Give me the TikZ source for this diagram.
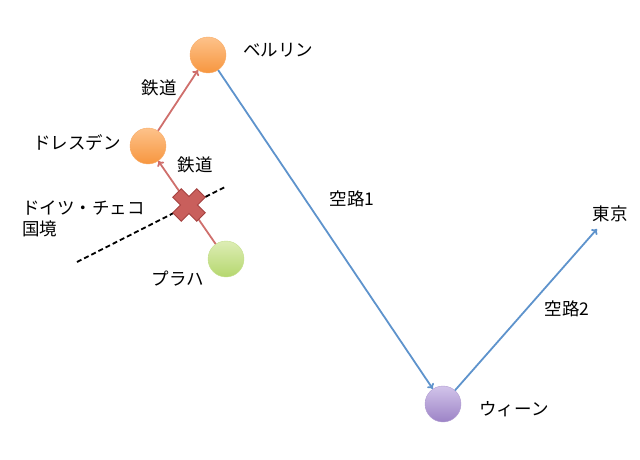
\documentclass[tikz,border=0pt]{standalone}
\usepackage{fontspec}
\setmainfont{Noto Sans CJK JP}
\usetikzlibrary{
  arrows.meta,
  shapes
}
\definecolor{railred}{HTML}{CF6F6C}
\definecolor{airblue}{HTML}{5E93CC}
\definecolor{crossred}{HTML}{C95F5C}
\definecolor{crossedge}{HTML}{A4403E}
\definecolor{orangetop}{HTML}{FDC28A}
\definecolor{orangebot}{HTML}{F7963F}
\definecolor{greentop}{HTML}{DDEDB5}
\definecolor{greenbot}{HTML}{B5D76E}
\definecolor{purpletop}{HTML}{D2C4EA}
\definecolor{purplebot}{HTML}{9C83C6}
\tikzset{
  city/.style={circle, minimum size=36pt, inner sep=0pt, line width=0.4pt},
  orangecity/.style={city, top color=orangetop, bottom color=orangebot, draw=orangebot!80!white},
  greencity/.style={city, top color=greentop, bottom color=greenbot, draw=greenbot!80!white},
  purplecity/.style={city, top color=purpletop, bottom color=purplebot, draw=purplebot!80!white},
  rail/.style={draw=railred, line width=1.8pt, -{To[length=5pt,width=8pt]}},
  air/.style={draw=airblue, line width=1.8pt, -{To[length=5pt,width=8pt]}},
  lbl/.style={font=\fontsize{17.5pt}{21pt}\selectfont, inner sep=1pt}
}
\begin{document}
\begin{tikzpicture}[x=1pt,y=-1pt]
        \useasboundingbox (0,0) rectangle (640,460);
        \node[orangecity] (berlin) at (208, 55) {};
        \node[orangecity] (dresden) at (148, 146) {};
        \node[greencity] (prague) at (226, 259) {};
        \node[purplecity] (wien) at (443, 404) {};
        \coordinate (tokyo) at (597, 229);
        \coordinate (borderA) at (77, 262);
        \coordinate (borderB) at (225, 187);
        % border and routes
        \draw[line width=1.8pt, dash pattern=on 5pt off 3pt] (borderA) -- (borderB);
        \draw[rail] (prague) -- (dresden);
        \draw[rail] (dresden) -- (berlin);
        \draw[air] (berlin) -- (wien);
        \draw[air] (wien) -- (tokyo);
        % closed border
        \draw[fill=crossred, draw=crossedge, line width=0.8pt, rotate around={45:(189,205)}]
          (183,188) -- (195,188) -- (195,199) -- (206,199) -- (206,211) -- (195,211)
          -- (195,222) -- (183,222) -- (183,211) -- (172,211) -- (172,199) -- (183,199) -- cycle;
        % labels
        \node[lbl] (lberlin) at (278, 50) {ベルリン};
        \node[lbl] (ldresden) at (77, 143) {ドレスデン};
        \node[lbl] (lrail1) at (159, 88) {鉄道};
        \node[lbl] (lrail2) at (195, 165) {鉄道};
        \node[lbl, align=left, anchor=north west, inner sep=0pt] (lborder) at (22, 201) {ドイツ・チェコ\\国境};
        \node[lbl] (lprague) at (178, 279) {プラハ};
        \node[lbl] (lair1) at (352, 199) {空路1};
        \node[lbl] (ltokyo) at (610, 214) {東京};
        \node[lbl] (lair2) at (567, 309) {空路2};
        \node[lbl] (lwien) at (514, 409) {ウィーン};
\end{tikzpicture}
\end{document}
